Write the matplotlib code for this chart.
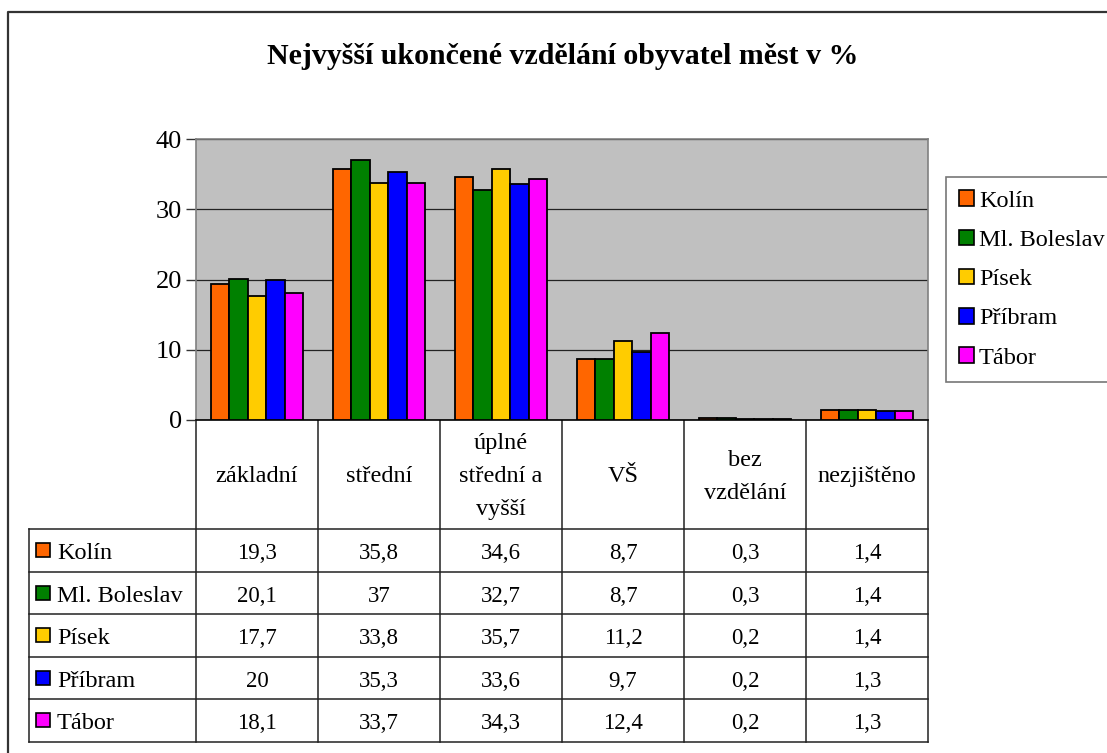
import numpy as np
import matplotlib
matplotlib.use('Agg')
from matplotlib import pyplot as plt
from matplotlib.patches import Rectangle

plt.rcParams['font.family'] = ['Liberation Serif', 'DejaVu Serif']

# data
categories = ['základní', 'střední', 'úplné\nstřední a\nvyšší', 'VŠ', 'bez\nvzdělání', 'nezjištěno']
cities = ['Kolín', 'Ml. Boleslav', 'Písek', 'Příbram', 'Tábor']
kolin = [19.3, 35.8, 34.6, 8.7, 0.3, 1.4]
ml_boleslav = [20.1, 37, 32.7, 8.7, 0.3, 1.4]
pisek = [17.7, 33.8, 35.7, 11.2, 0.2, 1.4]
pribram = [20, 35.3, 33.6, 9.7, 0.2, 1.3]
tabor = [18.1, 33.7, 34.3, 12.4, 0.2, 1.3]
yticks = [0, 10, 20, 30, 40]

series = [kolin, ml_boleslav, pisek, pribram, tabor]
colors = ['#FF6600', '#008000', '#FFCC00', '#0000FF', '#FF00FF']

W, H = 1107, 753
fig = plt.figure(figsize=(W / 100, H / 100), dpi=100)

# background layer in pixel coordinates (border, table)
bg = fig.add_axes([0, 0, 1, 1], zorder=0)
bg.set_xlim(0, W)
bg.set_ylim(H, 0)
bg.axis('off')
bg.plot([8, 8, W], [H, 12, 12], color='#333333', lw=1.6, solid_capstyle='butt')

# plot area
px_left, px_right, px_top, px_bot = 196, 928, 139, 420
ax = fig.add_axes([px_left / W, 1 - px_bot / H, (px_right - px_left) / W, (px_bot - px_top) / H], zorder=1)
ax.set_facecolor('#C0C0C0')

n = len(categories)
x = np.arange(n)
bw = 0.152
for j, (vals, c) in enumerate(zip(series, colors)):
	ax.bar(x + (j - 2) * bw, vals, bw, color=c, edgecolor='black', linewidth=1.3, zorder=3)

ax.set_xlim(-0.5, n - 0.5)
ax.set_ylim(0, 40)
ax.set_yticks(yticks)
ax.set_yticklabels([str(t) for t in yticks], fontsize=19)
ax.set_xticks([])
ax.yaxis.grid(True, color='#222222', linewidth=0.9, zorder=1)
ax.tick_params(axis='y', length=7, width=1, color='#333333', pad=3)
for s in ['top', 'right', 'left']:
	ax.spines[s].set_color('#808080')
	ax.spines[s].set_linewidth(1.2)
ax.spines['bottom'].set_color('black')
ax.spines['bottom'].set_linewidth(1.2)

fig.text(563 / W, 1 - 57 / H, 'Nejvyšší ukončené vzdělání obyvatel měst v %',
	ha='center', va='center', fontsize=21.5, fontweight='bold')

# data table
col_w = (px_right - px_left) / n
tab_left = 29
row_top = 529
row_h = 42.5
nrows = len(cities)
tab_bot = row_top + row_h * nrows
lc = '#222222'
for k in range(nrows + 1):
	yy = row_top + row_h * k
	bg.plot([tab_left, px_right], [yy, yy], color=lc, lw=1.1)
bg.plot([tab_left, tab_left], [row_top, tab_bot], color=lc, lw=1.1)
for i in range(n + 1):
	xx = px_left + col_w * i
	bg.plot([xx, xx], [px_bot, tab_bot], color=lc, lw=1.1)

for i, cat in enumerate(categories):
	bg.text(px_left + col_w * (i + 0.5), (px_bot + row_top) / 2 + 2, cat, ha='center', va='center',
		fontsize=17.5, linespacing=1.75)

for r, (name, vals, c) in enumerate(zip(cities, series, colors)):
	yc = row_top + row_h * (r + 0.5)
	bg.add_patch(Rectangle((36, yc - 7), 14, 14, facecolor=c, edgecolor='black', lw=1.2))
	bg.text(57, yc + 1, name, ha='left', va='center_baseline', fontsize=17.5)
	for i, v in enumerate(vals):
		bg.text(px_left + col_w * (i + 0.5), yc + 1, f'{v:g}'.replace('.', ','), ha='center',
			va='center_baseline', fontsize=16.5)

# legend
handles = [Rectangle((0, 0), 1, 1, facecolor=c, edgecolor='black', lw=1.2) for c in colors]
leg = fig.legend(handles, cities, loc='upper left', bbox_to_anchor=(946 / W, 1 - 177 / H),
	borderaxespad=0, fontsize=17.5, handlelength=0.6, handleheight=0.6, handletextpad=0.2,
	labelspacing=0.74, borderpad=0.55, fancybox=False, frameon=True)
leg.get_frame().set_edgecolor('#555555')
leg.get_frame().set_linewidth(1.2)

fig.savefig('out.png', dpi=100, facecolor='white')
